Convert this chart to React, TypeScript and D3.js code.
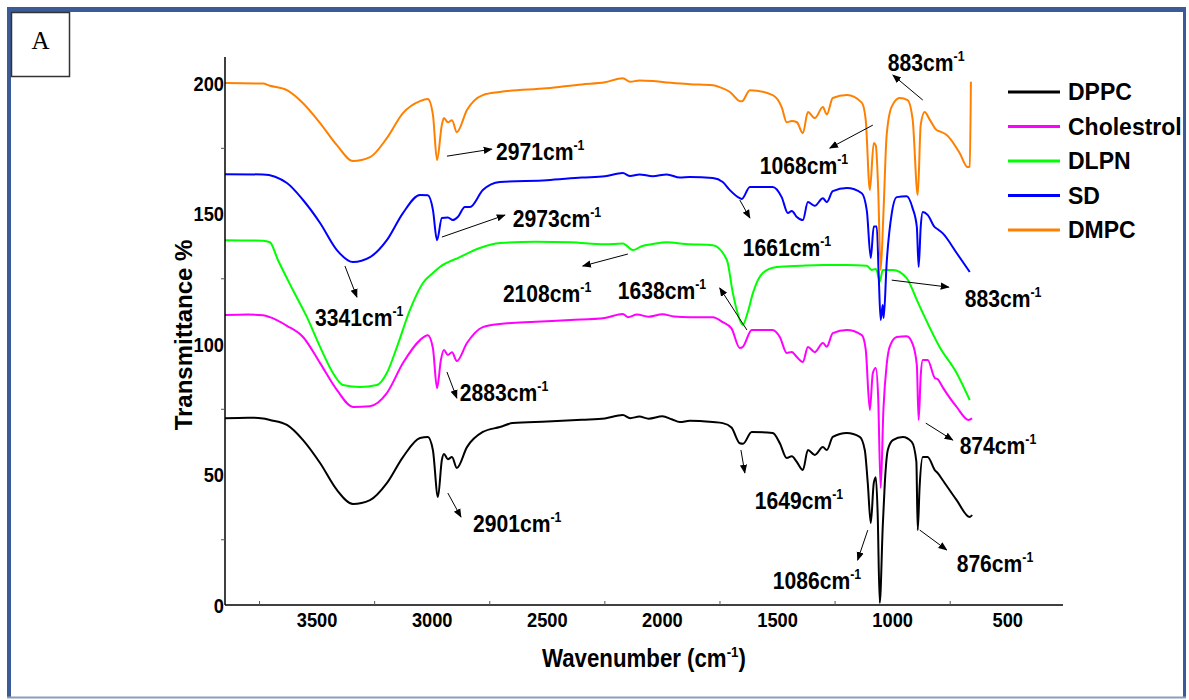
import React from 'react';
import * as d3 from 'd3';

// FTIR spectra, [wavenumber, transmittance %] (already offset as in the figure)
const dppc: [number, number][] = [
  [3900, 71.6], [3800, 71.8], [3735, 71.5], [3705, 70.9], [3631, 69], [3561, 63.2], [3487, 54.4], [3414, 44.1],
  [3344, 38.7], [3270, 40.2], [3197, 46.7], [3127, 56.7], [3053, 64], [3019, 64.4], [2997, 59.4], [2975, 41.4],
  [2958, 55.6], [2949, 57.9], [2932, 55.9], [2914, 56.7], [2893, 52.5], [2849, 60.5], [2780, 66.3], [2706, 68.2],
  [2650, 69.7], [2500, 70.3], [2350, 71], [2250, 71.5], [2172, 72.8], [2140, 71.6], [2100, 72.2], [2060, 71.4],
  [2000, 72.3], [1960, 71.2], [1924, 70.1], [1881, 70.6], [1781, 70.1], [1738, 69.7], [1700, 68], [1664, 62],
  [1650, 61.8], [1612, 66.3], [1521, 65.9], [1490, 62], [1460, 56.3], [1438, 57], [1416, 54.8], [1390, 51.7],
  [1368, 59.4], [1338, 57.5], [1303, 60.5], [1286, 59.4], [1260, 64.4], [1199, 65.9], [1143, 64.4], [1121, 59.4],
  [1108, 46.7], [1095, 31.4], [1082, 46.7], [1073, 49], [1065, 35], [1056, 0.8], [1043, 30], [1034, 46.7],
  [1021, 59.4], [999, 63.2], [956, 64.4], [917, 62.5], [897, 55], [891, 28.7], [883, 45], [869, 56.7],
  [848, 56.7], [817, 51.7], [804, 50.5], [783, 47.9], [722, 40.2], [665, 33.7], [655, 34.5],
];

const cholestrol: [number, number][] = [
  [3900, 111.1], [3800, 111.3], [3735, 111], [3705, 110.3], [3631, 107], [3561, 102.7], [3487, 92.7], [3414, 82.4],
  [3344, 75.9], [3270, 76.2], [3197, 81.2], [3127, 92.7], [3053, 101.5], [3019, 103.4], [2997, 98.5], [2979, 83.1],
  [2962, 94], [2949, 97.7], [2932, 95.8], [2914, 96.9], [2893, 93.5], [2849, 100.4], [2780, 106.5], [2706, 107.7],
  [2550, 108.5], [2400, 109.2], [2250, 110], [2172, 111.5], [2150, 110.3], [2110, 111.3], [2060, 110.5], [2000, 111.4],
  [1950, 110.6], [1881, 110.3], [1781, 110.3], [1738, 108.4], [1700, 106], [1664, 98.5], [1650, 99], [1612, 105.4],
  [1521, 105.4], [1490, 102.7], [1460, 96.6], [1438, 97], [1416, 95], [1390, 93.1], [1368, 98.9], [1338, 96.9],
  [1303, 100.4], [1286, 99], [1260, 104.2], [1199, 105.4], [1134, 103.4], [1117, 98], [1099, 74.7], [1086, 88.9],
  [1073, 90.8], [1063, 80], [1052, 44.8], [1040, 75], [1026, 92], [1013, 98.9], [982, 102.7], [939, 103],
  [913, 100], [895, 92], [887, 70.9], [878, 88], [869, 93.9], [848, 93.9], [817, 87], [804, 86.5],
  [783, 83.5], [722, 75.9], [670, 70.9], [655, 71.5],
];

const dlpn: [number, number][] = [
  [3900, 139.8], [3735, 139.6], [3705, 139], [3670, 132.2], [3605, 120.7], [3544, 110.3], [3487, 98.9], [3431, 88.9],
  [3388, 84.3], [3314, 83.5], [3240, 84.3], [3197, 88.9], [3153, 98.9], [3097, 113], [3040, 123.4], [2997, 127.2],
  [2967, 129.5], [2880, 133.3], [2793, 136.8], [2706, 138.7], [2550, 139.2], [2400, 139], [2250, 138.2], [2172, 138.5],
  [2128, 136], [2090, 137.5], [2042, 138.3], [1981, 139], [1900, 138.3], [1781, 137.9], [1720, 132.2], [1694, 119.5],
  [1677, 113], [1651, 107.3], [1630, 112], [1607, 119.5], [1564, 127.2], [1503, 129.5], [1400, 130], [1303, 130.3],
  [1200, 130.3], [1112, 130], [1091, 128.4], [1073, 128.8], [1065, 127], [1056, 123.8], [1043, 128.4], [999, 128.4],
  [939, 125.3], [895, 116.9], [869, 111.9], [796, 98.9], [722, 88.9], [665, 78.5],
];

const sd: [number, number][] = [
  [3900, 165.1], [3735, 165], [3631, 161.7], [3561, 155.2], [3487, 146.4], [3414, 136], [3344, 131.4], [3270, 133.3],
  [3197, 139.8], [3127, 150.2], [3053, 157.1], [3019, 157], [2997, 151.5], [2979, 139.8], [2958, 148.3], [2932, 148.5],
  [2910, 147.5], [2888, 148.8], [2858, 152.5], [2836, 152.5], [2780, 159], [2706, 162.1], [2502, 162.8], [2350, 163.8],
  [2250, 164.3], [2172, 165.5], [2140, 164.4], [2100, 165], [2042, 164.3], [1981, 165], [1924, 163.8], [1881, 164],
  [1781, 163.6], [1738, 162.1], [1707, 159], [1664, 155.9], [1655, 155.6], [1620, 160.2], [1521, 160.2], [1482, 156.3],
  [1455, 150.2], [1438, 151], [1416, 148.7], [1390, 147.5], [1368, 154.4], [1338, 153], [1303, 155.9], [1286, 154.4],
  [1260, 158.6], [1199, 159.8], [1134, 157.8], [1112, 151], [1095, 133], [1082, 145], [1069, 145], [1060, 125],
  [1052, 109.2], [1043, 115], [1039, 110], [1026, 131], [1004, 150], [982, 156.3], [939, 156.6], [913, 152],
  [895, 145], [887, 129.5], [878, 145], [869, 150.6], [848, 149.5], [817, 144.8], [804, 144], [783, 142.5],
  [722, 134.9], [665, 127.6],
];

const dmpc: [number, number][] = [
  [3900, 200], [3735, 199.8], [3705, 199], [3631, 197.3], [3561, 192.3], [3487, 184.7], [3414, 176.2], [3344, 170.1],
  [3270, 171.6], [3197, 178.9], [3127, 188.5], [3053, 193.1], [3019, 193.9], [2997, 188], [2979, 170.5], [2958, 184],
  [2949, 186.6], [2932, 185], [2914, 185.8], [2893, 181.2], [2849, 189.7], [2780, 195.4], [2706, 196.6], [2502, 198],
  [2350, 199.5], [2250, 200.3], [2172, 201.9], [2140, 200.5], [2100, 201], [2042, 200.8], [1981, 200.2], [1881, 199.6],
  [1781, 199.2], [1738, 198], [1707, 196.6], [1664, 193.1], [1655, 193], [1620, 197.3], [1521, 195.4], [1482, 190.8],
  [1460, 185], [1438, 185.5], [1416, 185], [1390, 180.8], [1368, 188.9], [1338, 186.6], [1303, 190.8], [1286, 188],
  [1260, 194.3], [1199, 195.4], [1134, 192.5], [1117, 186], [1099, 159], [1082, 177], [1073, 176], [1063, 160],
  [1052, 128.4], [1040, 150], [1026, 180], [1004, 191], [969, 194.3], [935, 193.5], [913, 186], [891, 157.1],
  [878, 184], [861, 188.9], [839, 186], [809, 182], [796, 181.5], [765, 180.1], [709, 173.2], [674, 167.8],
  [665, 168], [660, 200.5],
];

const seriesNames = ['DPPC', 'Cholestrol', 'DLPN', 'SD', 'DMPC'];
const seriesColors = ['#000000', '#ff00ff', '#00ff00', '#0000ff', '#ff8000'];
const seriesData = [dppc, cholestrol, dlpn, sd, dmpc];

const xTickLabels = [3500, 3000, 2500, 2000, 1500, 1000, 500];
const yTickLabels = [0, 50, 100, 150, 200];

// peak labels: text anchor (wavenumber, T) and arrow from -> to
const peakLabels = ['2971', '2973', '3341', '2108', '1638', '1661', '1068', '883', '883', '2883', '874', '2901', '1649', '1086', '876'];
const peakTextPos: [number, number][] = [
  [2723, 170.5], [2650, 144.8], [3509, 106.9], [2693, 116.1], [2194, 117.2], [1651, 133.7], [1577, 165.1], [1021, 204.6],
  [687, 114.2], [2880, 78.2], [709, 57.9], [2823, 28], [1599, 36.8], [1521, 6.1], [722, 12.6],
];
const arrowFrom: [number, number][] = [
  [2936, 172], [2958, 141], [3379, 129.9], [2150, 134.5], [1633, 105.4], [1664, 155.2], [1086, 183.9], [869, 193.5],
  [1004, 124.5], [2936, 89.3], [856, 69.7], [2932, 42.9], [1659, 59.4], [1108, 28.7], [882, 28.7],
];
const arrowTo: [number, number][] = [
  [2741, 174.7], [2684, 149.4], [3327, 118], [2346, 129.9], [1751, 121.5], [1620, 148.3], [1273, 175.1], [999, 203.1],
  [756, 121.8], [2893, 79.3], [739, 63.2], [2875, 33.7], [1642, 50.6], [1152, 17.2], [765, 21.1],
];

const FONT = 'Arial, "Liberation Sans", sans-serif';

const App = () => {
  const width = 1189;
  const height = 700;

  const x = d3.scaleLinear().domain([3900, 260]).range([225, 1063]);
  const y = d3.scaleLinear().domain([0, 210]).range([605, 57]);

  // wavenumber decreases left to right, so pixel x grows along each array
  const line = d3.line<[number, number]>()
    .x(d => x(d[0]))
    .y(d => y(d[1]))
    .curve(d3.curveMonotoneX);

  const xMinor = d3.range(3750, 260, -500);
  const yMinor = d3.range(25, 210, 50);

  return (
    <svg width={width} height={height} style={{ position: 'absolute', left: 0, top: 0, background: '#fff' }}>
      <defs>
        <marker id="arr" viewBox="0 0 10 10" refX="9" refY="5" markerWidth="9" markerHeight="9"
          markerUnits="userSpaceOnUse" orient="auto">
          <path d="M0,1 L10,5 L0,9 z" fill="#000" />
        </marker>
      </defs>

      {/* frame: heavy top/left, lighter right/bottom */}
      <line x1={7} x2={1186} y1={9.5} y2={9.5} stroke="#3b5b98" strokeWidth={5} />
      <line x1={9} x2={9} y1={7} y2={698} stroke="#3b5b98" strokeWidth={4} />
      <line x1={1184.5} x2={1184.5} y1={7} y2={698} stroke="#3b5b98" strokeWidth={3} />
      <line x1={7} x2={1186} y1={697.5} y2={697.5} stroke="#8e9bbb" strokeWidth={2} />
      <rect x={11.5} y={12.5} width={58} height={64} fill="#fff" stroke="#333" strokeWidth={1.5} />
      <text x={40.5} y={49} textAnchor="middle" fontFamily='"Times New Roman", "Liberation Serif", serif' fontSize={25}>A</text>

      {/* spectra */}
      {seriesData.map((d, i) => (
        <path key={seriesNames[i]} d={line(d) || ''} fill="none" stroke={seriesColors[i]} strokeWidth={2}
          strokeLinejoin="round" />
      ))}

      {/* axes */}
      <line x1={225} x2={225} y1={57} y2={605} stroke="#000" strokeWidth={1.5} />
      <line x1={225} x2={1063} y1={605} y2={605} stroke="#000" strokeWidth={1.5} />
      {xMinor.map(t => (
        <line key={'xm' + t} x1={x(t)} x2={x(t)} y1={605} y2={601} stroke="#555" strokeWidth={1} />
      ))}
      {yMinor.map(t => (
        <line key={'ym' + t} x1={221} x2={225} y1={y(t)} y2={y(t)} stroke="#555" strokeWidth={1} />
      ))}
      {xTickLabels.map(t => (
        <g key={'xl' + t} transform={`translate(${x(t)},${627}) scale(0.87,1)`}>
          <text textAnchor="middle" fontFamily={FONT} fontWeight="bold" fontSize={21}>{t}</text>
        </g>
      ))}
      {yTickLabels.map(t => (
        <g key={'yl' + t} transform={`translate(${224},${y(t) + 7.5}) scale(0.87,1)`}>
          <text textAnchor="end" fontFamily={FONT} fontWeight="bold" fontSize={21}>{t}</text>
        </g>
      ))}

      {/* axis titles */}
      <g transform={`translate(644,667) scale(0.89,1)`}>
        <text textAnchor="middle" fontFamily={FONT} fontWeight="bold" fontSize={25}>
          Wavenumber (cm<tspan dy={-10} fontSize={15}>-1</tspan><tspan dy={10}>)</tspan>
        </text>
      </g>
      <text transform="translate(192,335) rotate(-90)" textAnchor="middle" fontFamily={FONT} fontWeight="bold"
        fontSize={24}>Transmittance %</text>

      {/* peak annotations */}
      {peakLabels.map((lab, i) => (
        <g key={'pk' + i}>
          <line x1={x(arrowFrom[i][0])} y1={y(arrowFrom[i][1])} x2={x(arrowTo[i][0])} y2={y(arrowTo[i][1])}
            stroke="#000" strokeWidth={1} markerEnd="url(#arr)" />
          <g transform={`translate(${x(peakTextPos[i][0])},${y(peakTextPos[i][1])}) scale(0.88,1)`}>
            <text fontFamily={FONT} fontWeight="bold" fontSize={24}>
              {lab}cm<tspan dy={-10} fontSize={14}>-1</tspan>
            </text>
          </g>
        </g>
      ))}

      {/* legend */}
      {seriesNames.map((n, i) => (
        <g key={'lg' + n} transform={`translate(1008,${92 + i * 34.5})`}>
          <line x1={0} x2={52} y1={0} y2={0} stroke={seriesColors[i]} strokeWidth={3} />
          <text x={60} y={8} fontFamily={FONT} fontWeight="bold" fontSize={23}>{n}</text>
        </g>
      ))}
    </svg>
  );
};

export default App;
